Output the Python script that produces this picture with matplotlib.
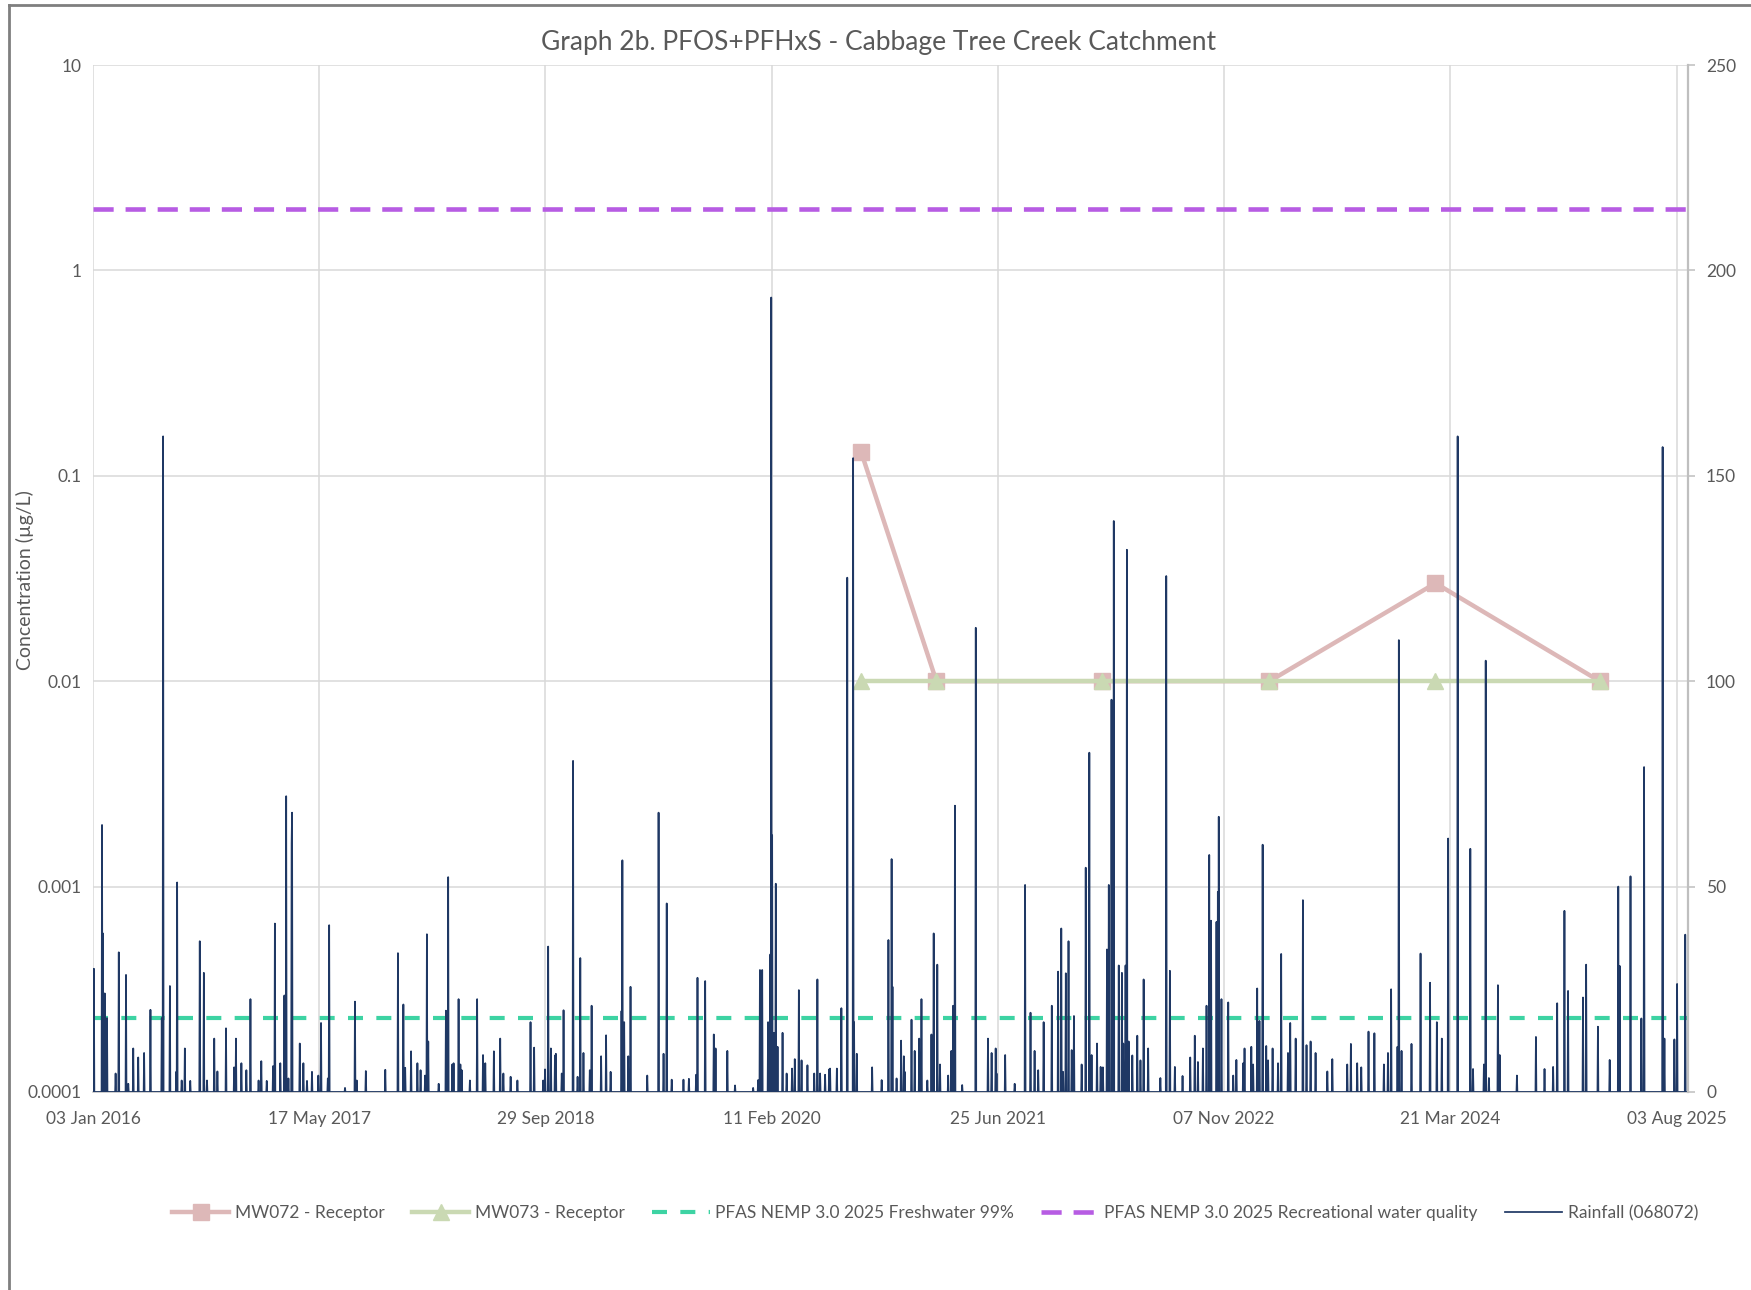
import numpy as np
import pandas as pd
import matplotlib
matplotlib.use("Agg")
import matplotlib.pyplot as plt
from matplotlib.lines import Line2D
from matplotlib.ticker import FixedLocator, NullLocator

plt.rcParams["font.family"] = ["Lato", "DejaVu Sans"]

# Record period for the chart
start_date = "2016-01-03"
end_date = "2025-08-28"
tick_step_days = 500

# Groundwater receptor sampling results (ug/L)
sample_dates = ["2020-08-27", "2021-02-09", "2022-02-09", "2023-02-15", "2024-02-17", "2025-02-14"]
mw072 = [0.13, 0.01, 0.01, 0.01, 0.03, 0.01]
mw073 = [0.01, 0.01, 0.01, 0.01, 0.01, 0.01]

# Guideline values (ug/L)
freshwater_99 = 0.00023
recreational = 2.0

# Daily rainfall at station 068072: day number since 03 Jan 2016 and total (mm)
rain_day = [
    2, 20, 22, 26, 31, 50, 57, 73, 78, 89, 100, 113, 127, 152, 155, 170, 184, 186, 196, 203,
    215, 236, 245, 252, 268, 275, 294, 312, 316, 328, 339, 348, 366, 372, 384, 398, 402, 414, 423, 427,
    432, 439, 440, 457, 465, 473, 484, 498, 504, 519, 522, 557, 579, 583, 603, 646, 674, 686, 690, 703,
    717, 724, 734, 738, 741, 764, 780, 785, 794, 797, 808, 812, 815, 833, 849, 862, 867, 886, 900, 907,
    923, 938, 967, 975, 995, 999, 1006, 1012, 1021, 1023, 1036, 1040, 1061, 1071, 1077, 1084, 1098, 1102, 1123, 1134,
    1144, 1168, 1170, 1174, 1183, 1188, 1225, 1250, 1261, 1268, 1279, 1305, 1317, 1333, 1336, 1353, 1372, 1376, 1402, 1419,
    1459, 1470, 1474, 1479, 1492, 1497, 1499, 1501, 1505, 1509, 1513, 1524, 1533, 1545, 1551, 1560, 1566, 1579, 1594, 1601,
    1607, 1618, 1627, 1629, 1644, 1654, 1667, 1680, 1682, 1688, 1722, 1743, 1758, 1765, 1767, 1776, 1786, 1792, 1794, 1809,
    1816, 1826, 1831, 1844, 1853, 1858, 1866, 1872, 1890, 1897, 1901, 1905, 1921, 1951, 1978, 1986, 1995, 1997, 2016, 2037,
    2060, 2072, 2081, 2089, 2101, 2119, 2133, 2140, 2144, 2150, 2156, 2163, 2168, 2185, 2194, 2202, 2207, 2219, 2227, 2232,
    2241, 2245, 2251, 2256, 2267, 2274, 2277, 2282, 2285, 2289, 2297, 2308, 2315, 2322, 2332, 2359, 2372, 2380, 2391, 2408,
    2425, 2435, 2442, 2453, 2461, 2467, 2471, 2483, 2486, 2488, 2494, 2509, 2520, 2527, 2542, 2545, 2560, 2564, 2573, 2578,
    2585, 2593, 2597, 2607, 2619, 2626, 2641, 2646, 2658, 2674, 2682, 2691, 2702, 2728, 2739, 2772, 2780, 2794, 2803, 2819,
    2832, 2853, 2862, 2869, 2883, 2886, 2892, 2914, 2934, 2955, 2970, 2981, 2995, 3016, 3044, 3050, 3074, 3078, 3085, 3105,
    3109, 3147, 3189, 3208, 3227, 3236, 3252, 3260, 3293, 3300, 3326, 3352, 3371, 3374, 3398, 3422, 3428, 3469, 3473, 3495,
    3501, 3519,
]
rain_mm = [
    30, 65, 38.6, 24, 18, 4.5, 34, 28.5, 2, 10.6, 8.4, 9.5, 20, 18, 159.6, 25.8, 4.9, 51, 2.8, 10.6,
    2.7, 36.7, 29, 2.8, 13, 5, 15.5, 6, 13, 7, 5.3, 22.6, 2.8, 7.5, 2.7, 6.3, 41, 7, 23.5, 72,
    3.3, 60.5, 68, 11.8, 7, 2.7, 4.9, 4, 16.8, 3.3, 40.6, 1, 22, 2.8, 5.1, 5.4, 33.8, 21.3, 5.9, 9.9,
    7, 5.3, 4, 38.4, 12.3, 2, 19.8, 52.3, 6.7, 7, 22.6, 6.7, 5.3, 2.8, 22.6, 9, 7, 9.9, 13, 4.5,
    3.7, 2.8, 17, 10.8, 2.8, 5.5, 35.4, 10.6, 8.9, 9.3, 4.5, 19.9, 80.6, 3.7, 32.6, 9.5, 5.3, 21, 8.7, 13.8,
    4.9, 19.7, 56.4, 17, 8.7, 25.6, 4, 68, 9.3, 45.9, 3, 3, 3.2, 4.2, 27.8, 27, 14, 10.6, 10, 1.6,
    1, 2.9, 29.7, 29.7, 17, 33.5, 193.4, 62.5, 14.4, 50.7, 11, 14.4, 4.5, 5.7, 8, 24.8, 7.7, 6.5, 4.5, 27.4,
    4.5, 4.2, 5.5, 5.7, 5.7, 20.4, 125.2, 154.3, 17, 9.3, 6, 2.9, 37, 56.7, 25.6, 3.3, 12.5, 8.7, 4.9, 17.6,
    10, 13, 22.6, 2.8, 14, 38.6, 31, 6.7, 4, 10, 21, 69.7, 1.7, 113, 13, 9.5, 10.6, 4.5, 9, 2,
    50.4, 19.3, 10, 5.3, 17, 21, 29.3, 39.8, 4.9, 28.9, 36.7, 10.2, 18.5, 6.7, 54.6, 82.6, 9, 11.8, 6.1, 6,
    34.7, 50.4, 95.5, 139, 30.8, 29, 11.8, 30.8, 132, 12.3, 8.9, 13.7, 7.7, 27.4, 10.6, 3.4, 125.6, 29.5, 6.1, 3.9,
    8.4, 13.7, 7.3, 10.6, 21, 57.7, 41.7, 41.4, 48.7, 67, 22.6, 21.8, 4, 7.8, 7, 10.6, 11, 6.7, 25.2, 17.3,
    60.2, 11.2, 7.7, 10.6, 7, 33.6, 9.5, 16.8, 13, 46.7, 11.4, 12.3, 9.5, 5, 8, 6.7, 11.7, 7, 6, 14.7,
    14.3, 6.7, 9.5, 25, 11, 110, 10, 11.7, 33.7, 26.6, 17, 13, 61.7, 159.6, 59.2, 5.6, 6.7, 105, 3.4, 26,
    9, 4, 13.4, 5.6, 6.1, 21.6, 44.1, 24.6, 23, 31, 15.9, 7.8, 50, 30.7, 52.5, 17.9, 79.1, 157, 13, 12.8,
    26.3, 38.3,
]

# Axis labels
left_ticks = [0.0001, 0.001, 0.01, 0.1, 1, 10]
left_labels = ["0.0001", "0.001", "0.01", "0.1", "1", "10"]
right_ticks = [0, 50, 100, 150, 200, 250]

# Colours
c_mw072 = "#DDB8B8"
c_mw073 = "#CAD9B3"
c_fresh = "#3DD3A3"
c_recr = "#B75CE3"
c_rain = "#1F3864"
c_grid = "#D9D9D9"
c_text = "#595959"

t0 = pd.Timestamp(start_date)
t1 = pd.Timestamp(end_date)
days = pd.date_range(t0, t1, freq="D")
rain = np.zeros(len(days))
for d, v in zip(rain_day, rain_mm):
    rain[d] = max(rain[d], v)

fig = plt.figure(figsize=(17.51, 12.90), dpi=100)
ax = fig.add_axes([0.0531, 0.1535, 0.9109, 0.7961])
ax2 = ax.twinx()

# Concentration series and guideline lines
x_samples = pd.to_datetime(sample_dates)
ax.plot(x_samples, mw072, color=c_mw072, lw=3.2, marker="s", ms=11,
        label="MW072 - Receptor", zorder=3)
ax.plot(x_samples, mw073, color=c_mw073, lw=3.2, marker="^", ms=11,
        label="MW073 - Receptor", zorder=3)
ax.plot([t0, t1], [freshwater_99, freshwater_99], color=c_fresh, lw=3.0,
        dashes=(3.6, 3.2), label="PFAS NEMP 3.0 2025 Freshwater 99%", zorder=2)
ax.plot([t0, t1], [recreational, recreational], color=c_recr, lw=3.3,
        dashes=(4.4, 2.6), label="PFAS NEMP 3.0 2025 Recreational water quality", zorder=2)

# Rainfall on the secondary axis
ax2.plot(days, rain, color=c_rain, lw=1.25, label="Rainfall (068072)")

ax.set_yscale("log")
ax.set_ylim(0.0001, 10)
ax.set_xlim(t0, t1)
ax.yaxis.set_major_locator(FixedLocator(left_ticks))
ax.yaxis.set_minor_locator(NullLocator())
ax.set_yticklabels(left_labels)

xticks = [t0 + pd.Timedelta(days=tick_step_days * k) for k in range(8)]
ax.set_xticks(xticks)
ax.set_xticklabels([t.strftime("%d %b %Y") for t in xticks])
ax.xaxis.set_minor_locator(NullLocator())

ax.grid(True, color=c_grid, lw=1.1)
ax.set_axisbelow(True)
ax.tick_params(axis="both", length=0, labelsize=12.5, colors=c_text, pad=8)
ax.tick_params(axis="x", pad=14)
for side in ["left", "top", "right"]:
    ax.spines[side].set_visible(False)
ax.spines["bottom"].set_color("#BFBFBF")
ax.spines["bottom"].set_linewidth(1.1)

ax2.set_ylim(0, 250)
ax2.set_yticks(right_ticks)
ax2.tick_params(axis="y", length=5, width=1.1, color="#BFBFBF",
                labelsize=12.5, labelcolor=c_text, pad=8)
for side in ["left", "top", "bottom"]:
    ax2.spines[side].set_visible(False)
ax2.spines["right"].set_color("#BFBFBF")
ax2.spines["right"].set_linewidth(1.6)

fig.text(0.0143, 0.55, "Concentration (\u00b5g/L)", rotation=90, ha="center", va="center",
         fontsize=14, color=c_text)
fig.text(0.5015, 0.967, "Graph 2b. PFOS+PFHxS - Cabbage Tree Creek Catchment",
         ha="center", va="center", fontsize=19, color=c_text)

h1, l1 = ax.get_legend_handles_labels()
h2, l2 = ax2.get_legend_handles_labels()
fig.legend(h1 + h2, l1 + l2, loc="center", bbox_to_anchor=(0.534, 0.0597), ncol=5,
           frameon=False, fontsize=12.5, labelcolor=c_text, handlelength=3.3,
           columnspacing=1.6, handletextpad=0.3)

# Chart frame on the left and top edges
fig.add_artist(Line2D([9 / 1751, 9 / 1751], [0, 1 - 5 / 1290], transform=fig.transFigure,
                      color="#7F7F7F", lw=2.0))
fig.add_artist(Line2D([9 / 1751, 1], [1 - 5 / 1290, 1 - 5 / 1290], transform=fig.transFigure,
                      color="#7F7F7F", lw=2.0))

fig.savefig("out.png", dpi=100)
